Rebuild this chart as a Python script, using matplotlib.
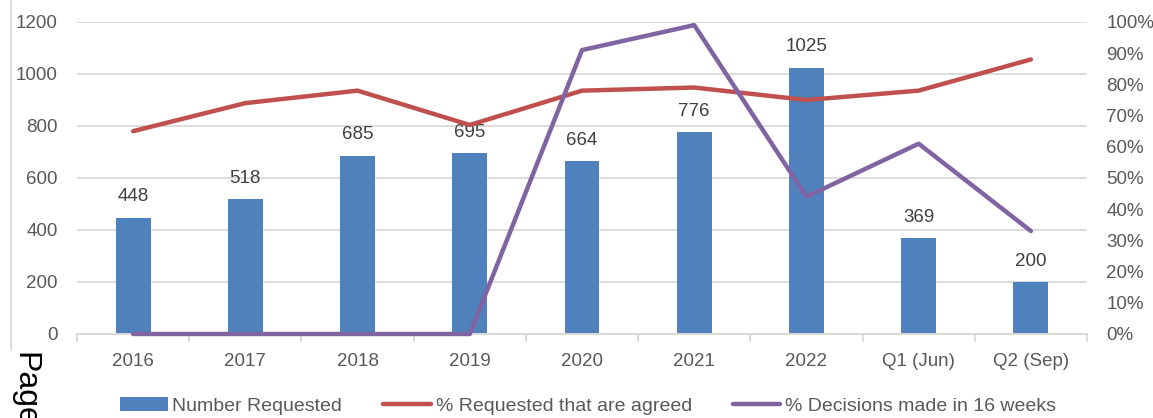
import numpy as np
import matplotlib
matplotlib.use("Agg")
import matplotlib.pyplot as plt
from matplotlib.ticker import FuncFormatter, MultipleLocator

FONTSIZE = 13.5
TEXT_GREY = "#595959"
GRID_GREY = "#D9D9D9"

categories = ["2016", "2017", "2018", "2019", "2020", "2021", "2022", "Q1 (Jun)", "Q2 (Sep)"]
number_requested = [448, 518, 685, 695, 664, 776, 1025, 369, 200]
pct_agreed = [65, 74, 78, 67, 78, 79, 75, 78, 88]
pct_decided_16wk = [0, 0, 0, 0, 91, 99, 44, 61, 33]

plt.rcParams['font.family'] = ['Liberation Sans', 'DejaVu Sans']
plt.rcParams['font.size'] = FONTSIZE

fig = plt.figure(figsize=(11.53, 4.18), dpi=100)
ax = fig.add_axes([77 / 1153, 1 - 334 / 418, (1087 - 77) / 1153, (334 - 22) / 418])
ax2 = ax.twinx()

xs = np.arange(len(categories))

# bars on the left axis
bars = ax.bar(xs, number_requested, width=0.31, color="#4F81BD", zorder=2,
              label="Number Requested")
for x, v in zip(xs, number_requested):
    ax.annotate(str(v), (x, v), xytext=(0, 9), textcoords="offset points",
                ha="center", va="bottom", color="#404040", fontsize=FONTSIZE)

ax.set_xlim(-0.5, len(categories) - 0.5)
ax.set_ylim(0, 1200)
ax.yaxis.set_major_locator(MultipleLocator(200))
ax.grid(axis="y", color=GRID_GREY, linewidth=1.3, zorder=0)
ax.set_axisbelow(True)

# lines on the right axis
ax2.plot(xs, pct_agreed, color="#C0504D", linewidth=3.2, zorder=3,
         label="% Requested that are agreed", solid_capstyle="round")
ax2.plot(xs, pct_decided_16wk, color="#8064A2", linewidth=3.2, zorder=3,
         label="% Decisions made in 16 weeks", clip_on=False, solid_capstyle="round")
ax2.set_ylim(0, 100)
ax2.yaxis.set_major_locator(MultipleLocator(10))
ax2.yaxis.set_major_formatter(FuncFormatter(lambda v, p: "{:.0f}%".format(v)))

# spines and ticks
for a in (ax, ax2):
    for side in ("top", "left", "right"):
        a.spines[side].set_visible(False)
    a.spines["bottom"].set_color(GRID_GREY)
    a.spines["bottom"].set_linewidth(1.3)
    a.tick_params(axis="y", length=0, colors=TEXT_GREY, labelsize=FONTSIZE)

ax.tick_params(axis="y", pad=14)
ax2.tick_params(axis="y", pad=14)

ax.set_xticks(xs)
ax.set_xticklabels(categories)
ax.set_xticks(np.arange(-0.5, len(categories)), minor=True)
ax.tick_params(axis="x", which="major", length=0, pad=14, colors=TEXT_GREY, labelsize=FONTSIZE)
ax.tick_params(axis="x", which="minor", length=6, width=1.3, color=GRID_GREY)

# legend along the bottom
handles = [bars] + ax2.get_lines()
labels = [h.get_label() for h in handles]
fig.legend(handles, labels, loc="center", bbox_to_anchor=(0.51, 0.029), ncol=3,
           frameon=False, handlelength=2.45, handletextpad=0.25, columnspacing=2.1,
           labelcolor=TEXT_GREY, fontsize=14)

# page furniture at the left edge (the "Page" word is cut by the edge, as in the source)
fig.add_artist(plt.Line2D([11 / 1153, 11 / 1153], [1 - 350 / 418, 1.0],
                          transform=fig.transFigure, color=GRID_GREY, linewidth=1.3))
fig.text(9 / 1153, 1 - 352 / 418, "Page", rotation=-90, ha="left", va="top",
         fontsize=23, color="black")

fig.savefig("out.png", dpi=100)
